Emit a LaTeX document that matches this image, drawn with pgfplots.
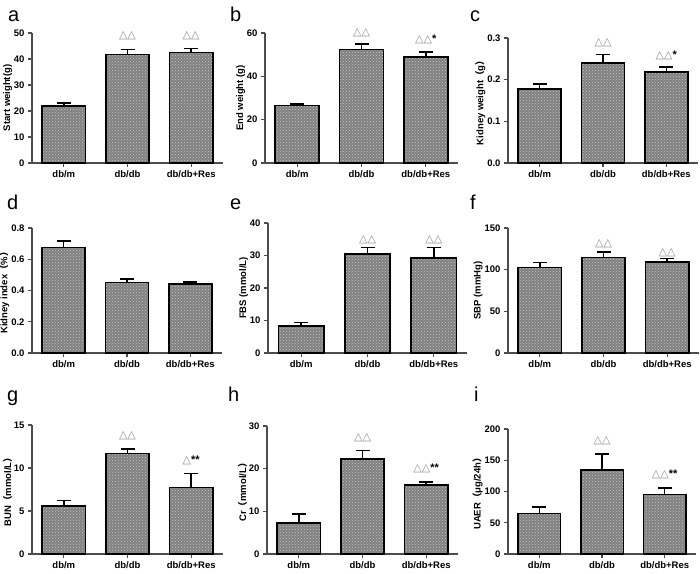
\documentclass[border=0pt]{standalone}
\usepackage{pgfplots}
\pgfplotsset{compat=1.18}
\usetikzlibrary{patterns}
\usepackage{fontspec}
\setmainfont{Liberation Sans}
\newfontfamily\dejavu{DejaVu Sans}
\newfontfamily\cjk{Noto Sans CJK SC}
\newcommand{\tri}[1]{{\dejavu\color{black!45}#1}}
\newcommand{\lp}{{\cjk （}}
\newcommand{\rp}{{\cjk ）}}
\tikzset{ann/.style={font=\fontsize{11}{12}\selectfont, inner sep=0pt},
  letter/.style={anchor=base west, font=\fontsize{20}{20}\selectfont, inner sep=0pt}}
\pgfplotsset{
  panel/.style={
    scale only axis, anchor=south west, clip=false,
    xmin=-0.5, xmax=2.5, ymin=0,
    axis x line=bottom, axis y line=left,
    axis line style={-, line width=1.2pt, black!70},
    xtick={0,1,2}, xticklabels={db/m, db/db, db/db+Res},
    tick align=outside, major tick length=4pt,
    tick style={line width=1.2pt, black!70},
    tick label style={font=\bfseries\fontsize{9.5}{10}\selectfont},
    /pgf/number format/assume math mode=true,
    ylabel style={font=\bfseries\fontsize{9.5}{10}\selectfont},
    ylabel shift=-5pt,
    ytick pos=left, xtick pos=bottom,
  },
  barplot/.style={
    ybar, bar width=0.68, draw=black, line width=1.6pt,
    fill=black!50, postaction={pattern=crosshatch dots, pattern color=black!22},
    error bars/.cd, y dir=plus, y explicit,
    error bar style={line width=1.6pt, black},
    error mark options={rotate=90, line width=1.6pt, mark size=7pt, black},
  },
}
\begin{document}
\begin{tikzpicture}
\useasboundingbox (0pt,0pt) rectangle (700pt,573pt);
% panel letters
\node[letter] at (8pt,551pt) {a};
\node[letter] at (230pt,551pt) {b};
\node[letter] at (470pt,551pt) {c};
\node[letter] at (7pt,363pt) {d};
\node[letter] at (230pt,363pt) {e};
\node[letter] at (470pt,363pt) {f};
\node[letter] at (7pt,172pt) {g};
\node[letter] at (228pt,172pt) {h};
\node[letter] at (474pt,172pt) {i};

% a
\begin{axis}[panel, at={(32pt,410pt)}, width=191pt, height=130pt, ymax=50, ytick={0,10,20,30,40,50},
  ylabel={Start weight(g)}]
\addplot[barplot] coordinates {(0,22.0) +- (0,1.1) (1,41.7) +- (0,2.0) (2,42.5) +- (0,1.6)};
\node[ann] at (axis cs:1,48.8) {\tri{△△}};
\node[ann] at (axis cs:2,48.8) {\tri{△△}};
\end{axis}
% b
\begin{axis}[panel, at={(265pt,410pt)}, width=193pt, height=130pt, ymax=60, ytick={0,20,40,60},
  ylabel={End weight (g)}]
\addplot[barplot] coordinates {(0,26.5) +- (0,0.6) (1,52.3) +- (0,2.5) (2,48.8) +- (0,2.5)};
\node[ann] at (axis cs:1,60.3) {\tri{△△}};
\node[ann] at (axis cs:2,57.2) {\tri{△△}\textbf{*}};
\end{axis}
% c
\begin{axis}[panel, at={(508pt,410pt)}, width=190pt, height=125pt, ymax=0.3, ytick={0,0.1,0.2,0.3},
  yticklabel style={/pgf/number format/.cd, fixed, fixed zerofill, precision=1},
  ylabel={Kidney weight\lp g\rp}]
\addplot[barplot] coordinates {(0,0.1775) +- (0,0.0125) (1,0.240) +- (0,0.020) (2,0.218) +- (0,0.012)};
\node[ann] at (axis cs:1,0.290) {\tri{△△}};
\node[ann] at (axis cs:2,0.2575) {\tri{△△}\textbf{*}};
\end{axis}
% d
\begin{axis}[panel, at={(32pt,220pt)}, width=190pt, height=125pt, ymax=0.8, ytick={0,0.2,0.4,0.6,0.8},
  yticklabel style={/pgf/number format/.cd, fixed, fixed zerofill, precision=1},
  ylabel={Kidney index\lp \%\rp}]
\addplot[barplot] coordinates {(0,0.674) +- (0,0.041) (1,0.452) +- (0,0.022) (2,0.442) +- (0,0.012)};
\end{axis}
% e
\begin{axis}[panel, at={(268pt,220pt)}, width=199pt, height=130pt, ymax=40, ytick={0,10,20,30,40},
  ylabel={FBS (mmol/L)}]
\addplot[barplot] coordinates {(0,8.25) +- (0,1.1) (1,30.4) +- (0,2.1) (2,29.2) +- (0,3.3)};
\node[ann] at (axis cs:1,34.8) {\tri{△△}};
\node[ann] at (axis cs:2,34.8) {\tri{△△}};
\end{axis}
% f
\begin{axis}[panel, at={(508pt,220pt)}, width=191pt, height=125pt, ymax=150, ytick={0,50,100,150},
  ylabel={SBP (mmHg)}]
\addplot[barplot] coordinates {(0,102.8) +- (0,5.6) (1,114.8) +- (0,6.4) (2,109.2) +- (0,4.4)};
\node[ann] at (axis cs:1,131.6) {\tri{△△}};
\node[ann] at (axis cs:2,120.8) {\tri{△△}};
\end{axis}
% g
\begin{axis}[panel, at={(32pt,19pt)}, width=191pt, height=129pt, ymax=15, ytick={0,5,10,15},
  ylabel={BUN\lp mmol/L\rp}]
\addplot[barplot] coordinates {(0,5.6) +- (0,0.6) (1,11.7) +- (0,0.5) (2,7.75) +- (0,1.6)};
\node[ann] at (axis cs:1,13.8) {\tri{△△}};
\node[ann] at (axis cs:2,10.9) {\tri{△}\textbf{**}};
\end{axis}
% h
\begin{axis}[panel, at={(267pt,19pt)}, width=191pt, height=128pt, ymax=30, ytick={0,10,20,30},
  ylabel={Cr\lp mmol/L\rp}]
\addplot[barplot] coordinates {(0,7.3) +- (0,2.1) (1,22.3) +- (0,2.0) (2,16.2) +- (0,0.7)};
\node[ann] at (axis cs:1,27.3) {\tri{△△}};
\node[ann] at (axis cs:2,20.1) {\tri{△△}\textbf{**}};
\end{axis}
% i
\begin{axis}[panel, at={(508pt,19pt)}, width=188pt, height=125pt, ymax=200, ytick={0,50,100,150,200},
  ylabel={UAER\lp μg/24h\rp}]
\addplot[barplot] coordinates {(0,64.9) +- (0,10.1) (1,134.6) +- (0,25.0) (2,95.2) +- (0,10.7)};
\node[ann] at (axis cs:1,181) {\tri{△△}};
\node[ann] at (axis cs:2,127.5) {\tri{△△}\textbf{**}};
\end{axis}
\end{tikzpicture}
\end{document}
